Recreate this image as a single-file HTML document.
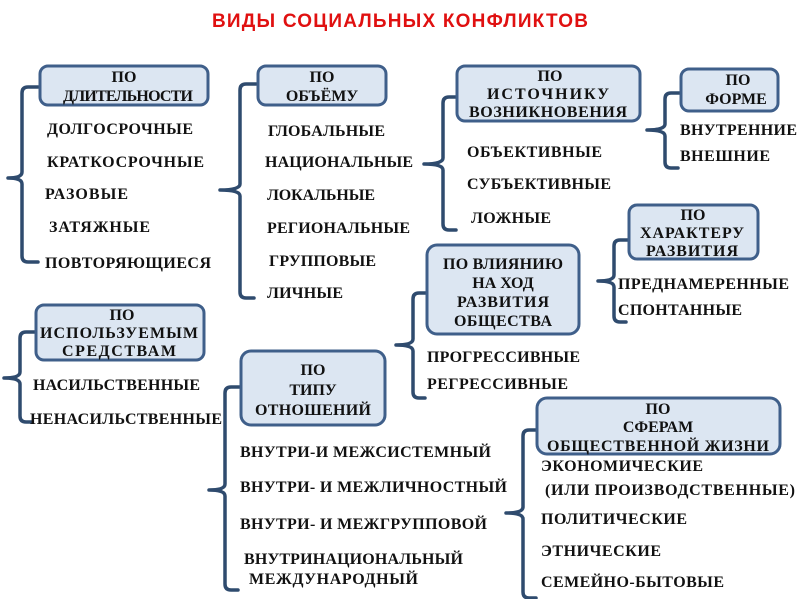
<!DOCTYPE html>
<html><head><meta charset="utf-8"><style>
html,body{margin:0;padding:0;background:#fff;}
svg{display:block}
text{font-family:"Liberation Serif",serif;font-weight:bold;font-size:16px;fill:#111;}
.t{font-family:"Liberation Sans",sans-serif;font-size:19px;fill:#e01010;}
.b{fill:#dce6f2;stroke:#3f5f8a;stroke-width:3;}
.br{fill:none;stroke:#2f4b6e;stroke-width:3.5;stroke-linecap:round;stroke-linejoin:round;}
</style></head><body>
<svg width="800" height="599" viewBox="0 0 800 599" xmlns="http://www.w3.org/2000/svg">
<text class="t" x="400" y="27" text-anchor="middle" textLength="376">ВИДЫ СОЦИАЛЬНЫХ КОНФЛИКТОВ</text>

<path class="br" d="M38,87 H28 Q22,87 22,93 V172 Q22,178 8,178 Q22,178 22,184 V256 Q22,262 28,262 H38"/>
<path class="br" d="M256,84 H246 Q240,84 240,90 V184 Q240,190 220,190 Q240,190 240,196 V292 Q240,298 246,298 H254"/>
<path class="br" d="M456,97 H449 Q443,97 443,103 V158 Q443,164 424,164 Q443,164 443,170 V224 Q443,230 449,230 H456"/>
<path class="br" d="M680,93 H671 Q665,93 665,99 V124 Q665,130 647,130 Q665,130 665,136 V162 Q665,168 671,168 H678"/>
<path class="br" d="M628,240 H620 Q614,240 614,246 V275 Q614,281 598,281 Q614,281 614,287 V316 Q614,322 620,322 H626"/>
<path class="br" d="M426,293 H419 Q413,293 413,299 V339 Q413,345 396,345 Q413,345 413,351 V392 Q413,398 419,398 H425"/>
<path class="br" d="M35,332 H26 Q20,332 20,338 V372 Q20,378 4,378 Q20,378 20,384 V416 Q20,422 26,422 H32"/>
<path class="br" d="M240,387 H231 Q225,387 225,393 V484 Q225,490 209,490 Q225,490 225,496 V584 Q225,590 231,590 H238"/>
<path class="br" d="M536,430 H529 Q523,430 523,436 V507 Q523,513 506,513 Q523,513 523,519 V592 Q523,598 529,598 H536"/>

<rect class="b" x="40" y="66" width="168" height="39" rx="8"/>
<text x="124" y="82" text-anchor="middle">ПО</text>
<text x="128" y="101" text-anchor="middle" textLength="130">ДЛИТЕЛЬНОСТИ</text>

<rect class="b" x="258" y="66" width="128" height="39" rx="8"/>
<text x="322" y="82" text-anchor="middle">ПО</text>
<text x="322" y="101" text-anchor="middle">ОБЪЁМУ</text>

<rect class="b" x="457" y="66" width="183" height="55" rx="8"/>
<text x="550" y="81" text-anchor="middle">ПО</text>
<text x="548" y="99" text-anchor="middle" textLength="122">ИСТОЧНИКУ</text>
<text x="548" y="117" text-anchor="middle" textLength="158">ВОЗНИКНОВЕНИЯ</text>

<rect class="b" x="681" y="69" width="97" height="42" rx="8"/>
<text x="738" y="85" text-anchor="middle">ПО</text>
<text x="736" y="104" text-anchor="middle">ФОРМЕ</text>

<rect class="b" x="629" y="205" width="129" height="54" rx="8"/>
<text x="693" y="220" text-anchor="middle">ПО</text>
<text x="692" y="238" text-anchor="middle" textLength="104">ХАРАКТЕРУ</text>
<text x="692" y="256" text-anchor="middle" textLength="92">РАЗВИТИЯ</text>

<rect class="b" x="427" y="245" width="152" height="89" rx="10"/>
<text x="503" y="269" text-anchor="middle" textLength="120">ПО ВЛИЯНИЮ</text>
<text x="503" y="288" text-anchor="middle">НА ХОД</text>
<text x="503" y="307" text-anchor="middle" textLength="92">РАЗВИТИЯ</text>
<text x="503" y="326" text-anchor="middle" textLength="98">ОБЩЕСТВА</text>

<rect class="b" x="36" y="305" width="168" height="55" rx="8"/>
<text x="122" y="320" text-anchor="middle">ПО</text>
<text x="119" y="338" text-anchor="middle" textLength="158">ИСПОЛЬЗУЕМЫМ</text>
<text x="119" y="356" text-anchor="middle" textLength="114">СРЕДСТВАМ</text>

<rect class="b" x="241" y="351" width="144" height="74" rx="10"/>
<text x="313" y="375" text-anchor="middle">ПО</text>
<text x="313" y="395" text-anchor="middle">ТИПУ</text>
<text x="313" y="415" text-anchor="middle" textLength="116">ОТНОШЕНИЙ</text>

<rect class="b" x="537" y="398" width="243" height="56" rx="10"/>
<text x="658" y="414" text-anchor="middle">ПО</text>
<text x="658" y="432" text-anchor="middle">СФЕРАМ</text>
<text x="658" y="451" text-anchor="middle" textLength="222">ОБЩЕСТВЕННОЙ ЖИЗНИ</text>

<text x="47" y="134" textLength="146">ДОЛГОСРОЧНЫЕ</text>
<text x="47" y="167" textLength="157">КРАТКОСРОЧНЫЕ</text>
<text x="45" y="199" textLength="83">РАЗОВЫЕ</text>
<text x="49" y="232" textLength="101">ЗАТЯЖНЫЕ</text>
<text x="45" y="268" textLength="166">ПОВТОРЯЮЩИЕСЯ</text>

<text x="268" y="136" textLength="117">ГЛОБАЛЬНЫЕ</text>
<text x="265" y="167" textLength="148">НАЦИОНАЛЬНЫЕ</text>
<text x="267" y="200" textLength="108">ЛОКАЛЬНЫЕ</text>
<text x="267" y="233" textLength="143">РЕГИОНАЛЬНЫЕ</text>
<text x="269" y="266" textLength="107">ГРУППОВЫЕ</text>
<text x="267" y="298" textLength="76">ЛИЧНЫЕ</text>

<text x="467" y="157" textLength="135">ОБЪЕКТИВНЫЕ</text>
<text x="467" y="189" textLength="144">СУБЪЕКТИВНЫЕ</text>
<text x="471" y="223" textLength="80">ЛОЖНЫЕ</text>

<text x="680" y="135" textLength="117">ВНУТРЕННИЕ</text>
<text x="680" y="161" textLength="90">ВНЕШНИЕ</text>

<text x="618" y="289" textLength="171">ПРЕДНАМЕРЕННЫЕ</text>
<text x="618" y="315" textLength="124">СПОНТАННЫЕ</text>

<text x="427" y="362" textLength="153">ПРОГРЕССИВНЫЕ</text>
<text x="427" y="389" textLength="141">РЕГРЕССИВНЫЕ</text>

<text x="33" y="390" textLength="167">НАСИЛЬСТВЕННЫЕ</text>
<text x="30" y="424" textLength="192">НЕНАСИЛЬСТВЕННЫЕ</text>

<text x="240" y="457" textLength="251">ВНУТРИ-И МЕЖСИСТЕМНЫЙ</text>
<text x="240" y="492" textLength="267">ВНУТРИ- И МЕЖЛИЧНОСТНЫЙ</text>
<text x="240" y="529" textLength="247">ВНУТРИ- И МЕЖГРУППОВОЙ</text>
<text x="244" y="564" textLength="219">ВНУТРИНАЦИОНАЛЬНЫЙ</text>
<text x="249" y="584" textLength="169">МЕЖДУНАРОДНЫЙ</text>

<text x="541" y="471" textLength="162">ЭКОНОМИЧЕСКИЕ</text>
<text x="545" y="495" textLength="250">(ИЛИ ПРОИЗВОДСТВЕННЫЕ)</text>
<text x="541" y="524" textLength="146">ПОЛИТИЧЕСКИЕ</text>
<text x="541" y="556" textLength="120">ЭТНИЧЕСКИЕ</text>
<text x="541" y="587" textLength="183">СЕМЕЙНО-БЫТОВЫЕ</text>
</svg>
</body></html>
